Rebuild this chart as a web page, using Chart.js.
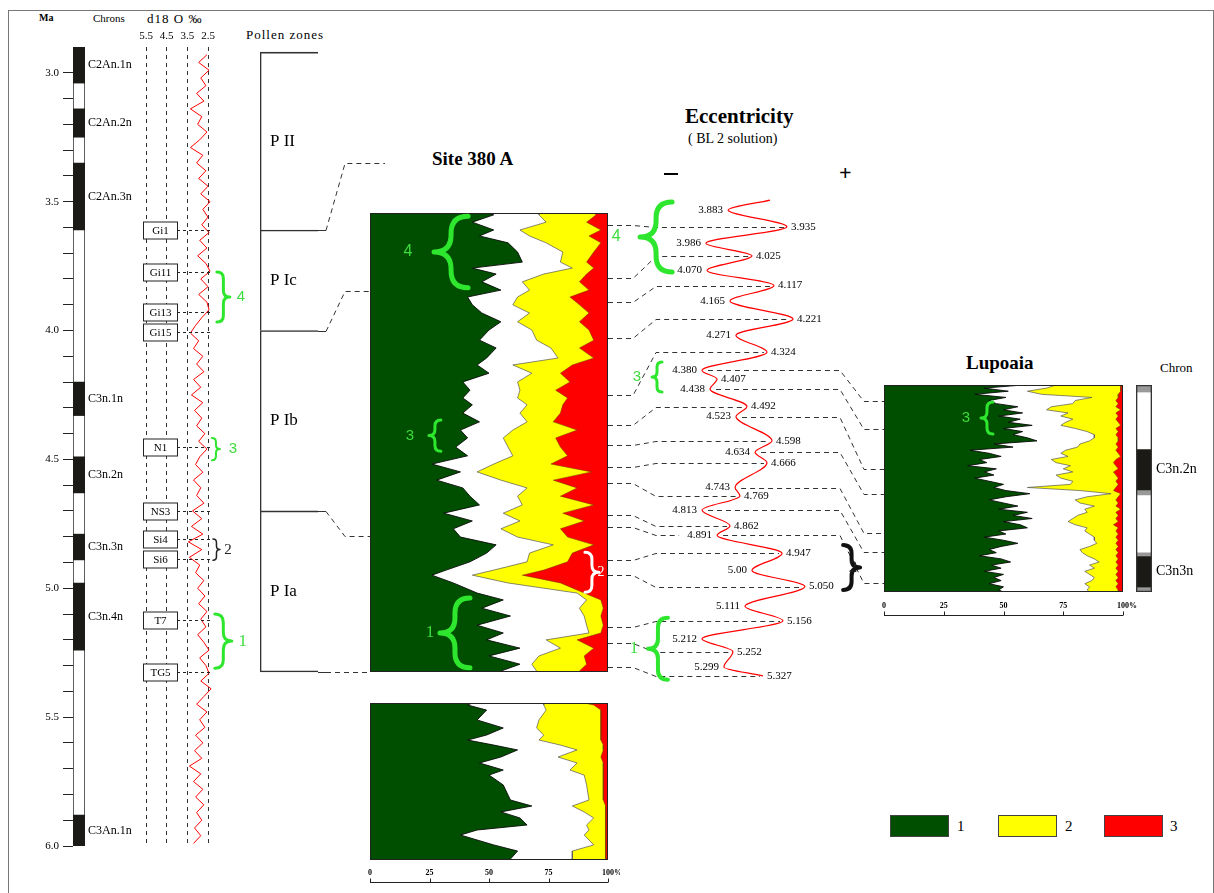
<!DOCTYPE html>
<html>
<head>
<meta charset="utf-8">
<title>Pollen record, Site 380 A and Lupoaia vs eccentricity</title>
<script src="https://cdn.jsdelivr.net/npm/chart.js@4.4.1/dist/chart.umd.min.js"></script>
<style>
  body { margin: 0; background: #fff; }
  #page { position: relative; width: 1214px; height: 893px; overflow: hidden; font-family: "Liberation Serif", serif; }
  #page canvas { position: absolute; }
  .t { position: absolute; white-space: nowrap; color: #000; line-height: 1; }
  .frame { position: absolute; left: 8px; top: 10px; width: 1204px; height: 890px; border: 1px solid #777; border-bottom: none; }
  .key { position: absolute; top: 815px; width: 59px; height: 22px; border: 1px solid #444; box-sizing: border-box; }
</style>
</head>
<body>
<div id="page">
  <div class="frame"></div>

  <div class="t" style="left:39px;top:13px;font-size:10px;font-weight:bold">Ma</div>
  <div class="t" style="left:93px;top:13px;font-size:11px">Chrons</div>
  <div class="t" style="left:147px;top:12px;font-size:13px;letter-spacing:1px">d18 O ‰</div>
  <div class="t" style="left:246px;top:28px;font-size:13px;letter-spacing:1px">Pollen zones</div>
  <div class="t" style="left:432px;top:149px;font-size:19px;font-weight:bold">Site 380 A</div>
  <div class="t" style="left:685px;top:106px;font-size:21px;font-weight:bold">Eccentricity</div>
  <div class="t" style="left:688px;top:132px;font-size:14px">( BL 2 solution)</div>
  <div style="position:absolute;left:664px;top:173px;width:14px;height:2px;background:#000"></div>
  <div class="t" style="left:839px;top:162px;font-size:22px;font-weight:bold">+</div>
  <div class="t" style="left:966px;top:353px;font-size:19px;font-weight:bold">Lupoaia</div>
  <div class="t" style="left:1160px;top:361px;font-size:13px">Chron</div>

  <div class="key" style="left:890px;background:#004f00"></div>
  <div class="t" style="left:957px;top:819px;font-size:15px">1</div>
  <div class="key" style="left:998px;background:#ffff00"></div>
  <div class="t" style="left:1065px;top:819px;font-size:15px">2</div>
  <div class="key" style="left:1104px;background:#ff0000"></div>
  <div class="t" style="left:1170px;top:819px;font-size:15px">3</div>

  <canvas id="chron" width="140" height="893" style="left:0;top:0"></canvas>
  <canvas id="d18o" width="130" height="893" style="left:120px;top:0"></canvas>
  <canvas id="pollen" width="110" height="893" style="left:250px;top:0"></canvas>
  <canvas id="site" width="260" height="480" style="left:360px;top:200px"></canvas>
  <canvas id="siteLow" width="260" height="203" style="left:360px;top:690px"></canvas>
  <canvas id="ecc" width="220" height="500" style="left:640px;top:190px"></canvas>
  <canvas id="lup" width="270" height="260" style="left:870px;top:370px"></canvas>
  <canvas id="lupChron" width="84" height="260" style="left:1130px;top:370px"></canvas>
  <canvas id="overlay" width="1214" height="893" style="left:0;top:0;z-index:5"></canvas>
</div>

<script>
// ---- age column (Ma) ----
const ageLabels = [3.0, 3.5, 4.0, 4.5, 5.0, 5.5, 6.0];
const chronNames = ['C2An.1n', 'C2An.2n', 'C2An.3n', 'C3n.1n', 'C3n.2n', 'C3n.3n', 'C3n.4n', 'C3An.1n'];
const chronTop  = [2.90, 3.14, 3.35, 4.20, 4.49, 4.79, 4.98, 5.88];
const chronBase = [3.04, 3.25, 3.61, 4.33, 4.63, 4.89, 5.24, 6.00];

// ---- d18O (per mil) ----
const d18oTicks = [5.5, 4.5, 3.5, 2.5];
const d18oAge = [2.93, 2.96, 2.99, 3.02, 3.05, 3.08, 3.11, 3.14, 3.17, 3.20,
  3.23, 3.26, 3.29, 3.32, 3.35, 3.38, 3.41, 3.44, 3.47, 3.50,
  3.53, 3.56, 3.59, 3.62, 3.65, 3.68, 3.71, 3.74, 3.77, 3.80,
  3.83, 3.86, 3.89, 3.92, 3.95, 3.98, 4.01, 4.04, 4.07, 4.10,
  4.13, 4.16, 4.19, 4.22, 4.25, 4.28, 4.31, 4.34, 4.37, 4.40,
  4.43, 4.46, 4.49, 4.52, 4.55, 4.58, 4.61, 4.64, 4.67, 4.70,
  4.73, 4.76, 4.79, 4.82, 4.85, 4.88, 4.91, 4.94, 4.97, 5.00,
  5.03, 5.06, 5.09, 5.12, 5.15, 5.18, 5.21, 5.24, 5.27, 5.30,
  5.33, 5.36, 5.39, 5.42, 5.45, 5.48, 5.51, 5.54, 5.57, 5.60,
  5.63, 5.66, 5.69, 5.72, 5.75, 5.78, 5.81, 5.84, 5.87, 5.90,
  5.93, 5.96, 5.99];
const d18oVal = [2.55, 2.95, 2.45, 2.85, 2.60, 3.05, 2.70, 3.35, 2.80, 3.00,
  2.55, 2.90, 3.35, 2.75, 3.05, 2.60, 2.95, 2.50, 2.85, 2.40,
  2.75, 2.50, 2.80, 2.45, 2.90, 2.55, 3.00, 2.60, 2.40, 2.85,
  2.50, 2.95, 2.55, 2.45, 2.80, 3.10, 3.35, 2.95, 3.20, 2.75,
  3.05, 2.70, 3.20, 2.85, 3.30, 2.75, 3.15, 2.80, 3.05, 2.65,
  2.95, 2.55, 2.90, 3.10, 2.75, 3.20, 2.85, 3.05, 2.70, 3.25,
  2.80, 3.30, 2.75, 3.45, 2.80, 3.40, 2.90, 3.10, 2.70, 3.00,
  2.65, 2.95, 2.55, 2.85, 2.60, 3.00, 2.70, 2.45, 2.90, 2.60,
  2.45, 2.85, 2.35, 2.70, 3.05, 2.55, 2.90, 2.65, 3.10, 2.75,
  3.15, 2.80, 3.40, 2.85, 3.20, 2.75, 3.10, 2.70, 3.05, 2.80,
  3.15, 2.85, 3.20];
const isoNames = ['Gi1', 'Gi11', 'Gi13', 'Gi15', 'N1', 'NS3', 'Si4', 'Si6', 'T7', 'TG5'];
const isoAges  = [3.61, 3.773, 3.928, 4.006, 4.452, 4.70, 4.809, 4.887, 5.124, 5.325];

// ---- pollen zones ----
const pollenZones = ['P II', 'P Ic', 'P Ib', 'P Ia'];
const pollenTop   = [2.92, 3.61, 4.00, 4.70];
const pollenBase  = [3.61, 4.00, 4.70, 5.325];

// ---- Site 380 A, cumulative % edges (group 1 | other | group 2 | group 3) ----
const s380Depth = [0, 0.4, 2.0, 3.7, 5.0, 6.5, 8.5, 10.7, 12.0, 13.3,
  15.0, 16.8, 18.3, 20.0, 21.8, 23.7, 25.5, 27.7, 29.4, 31.6,
  33.1, 34.9, 36.8, 38.6, 40.3, 41.8, 43.6, 45.5, 47.3, 49.0,
  51.0, 52.9, 54.7, 56.4, 58.2, 59.9, 61.7, 63.6, 65.4, 67.1,
  68.8, 70.6, 72.3, 74.1, 76.0, 77.8, 78.9, 80.6, 82.8, 84.3,
  86.1, 87.8, 89.8, 91.5, 93.0, 94.8, 96.5, 98.3, 99.8, 100];
const s380Edge1 = [49, 52, 43, 52, 46, 58, 62, 64, 43, 53,
  47, 55, 41, 43, 47, 55, 50, 46, 53, 49,
  45, 50, 39, 42, 39, 43, 39, 46, 38, 41,
  36, 41, 26, 38, 28, 39, 42, 46, 31, 43,
  35, 38, 53, 49, 42, 32, 26, 35, 45, 56,
  47, 59, 45, 56, 49, 63, 50, 63, 55, 55];
const s380EdgeOther = [71, 71, 74, 63, 67, 74, 81, 80, 85, 73,
  64, 67, 62, 60, 67, 62, 68, 70, 76, 79,
  60, 68, 62, 63, 62, 66, 63, 66, 60, 56,
  58, 60, 52, 45, 55, 66, 62, 64, 56, 63,
  55, 62, 77, 67, 66, 52, 43, 58, 87, 91,
  88, 90, 91, 92, 74, 80, 71, 68, 70, 70];
const s380Edge2 = [94, 95, 91, 97, 92, 97, 94, 91, 94, 91,
  88, 92, 84, 88, 92, 88, 92, 94, 88, 94,
  85, 80, 84, 78, 83, 81, 80, 77, 87, 78,
  80, 83, 76, 93, 77, 87, 80, 94, 81, 90,
  80, 83, 94, 85, 83, 73, 64, 80, 90, 97,
  98, 97, 98, 97, 87, 94, 90, 91, 88, 88];

// lower Site 380 A section
const lowDepth = [0, 1.3, 4.5, 10.8, 15.9, 20.4, 23.6, 26.8, 29.9, 34.4,
  38.2, 42.7, 45.9, 52.2, 61.8, 65.6, 69.4, 73.2, 77.7, 80.9,
  84.1, 90.4, 94.3, 99.4, 100];
const lowEdge1 = [43, 41, 49, 45, 56, 49, 41, 52, 62, 55,
  46, 56, 50, 56, 59, 68, 55, 63, 66, 45,
  38, 52, 62, 59, 59];
const lowEdgeOther = [73, 73, 74, 71, 70, 73, 71, 80, 87, 79,
  87, 84, 90, 91, 92, 85, 90, 94, 91, 92,
  90, 94, 85, 85, 85];
const lowEdge2 = [90, 94, 97, 97, 97, 97, 97, 98, 98, 97,
  98, 98, 98, 98, 98, 99, 99, 99, 99, 99,
  99, 99, 99, 99, 99];

// ---- Lupoaia ----
const lupDepth = [0, 1.5, 3, 4.5, 6, 7.5, 9, 10.5, 12, 13.5,
  15, 16.5, 18, 19.5, 21, 22.5, 24, 25.5, 27, 28.5,
  30, 31.5, 33, 34.5, 36, 37.5, 39, 40.5, 42, 43.5,
  45, 46.5, 48, 49.5, 51, 52.5, 54, 55.5, 57, 58.5,
  60, 61.5, 63, 64.5, 66, 67.5, 69, 70.5, 72, 73.5,
  75, 76.5, 78, 79.5, 81, 82.5, 84, 85.5, 87, 88.5,
  90, 91.5, 93, 94.5, 96, 97.5, 99, 100];
const lupEdge1 = [58, 42, 52, 38, 51, 44, 47, 56, 50, 58,
  48, 57, 52, 62, 50, 58, 54, 60, 64, 46,
  54, 36, 44, 49, 40, 43, 35, 47, 42, 46,
  38, 44, 50, 46, 51, 61, 51, 44, 50, 56,
  48, 60, 54, 62, 50, 57, 60, 48, 51, 42,
  50, 56, 49, 44, 47, 40, 49, 53, 45, 49,
  42, 50, 46, 49, 44, 50, 48, 50];
const lupEdgeOther = [72, 68, 60, 66, 87, 80, 79, 70, 68, 77,
  74, 79, 76, 74, 80, 85, 88, 88, 86, 82,
  81, 76, 74, 77, 70, 72, 78, 75, 79, 72,
  74, 79, 78, 60, 82, 95, 85, 80, 82, 88,
  84, 85, 81, 79, 77, 80, 85, 84, 86, 88,
  88, 89, 86, 82, 83, 85, 88, 90, 86, 88,
  84, 86, 88, 87, 84, 86, 85, 86];
const lupEdge2 = [99, 99, 99, 98, 98, 97, 98, 97, 99, 97,
  98, 97, 98, 99, 97, 98, 97, 98, 98, 97,
  98, 97, 98, 99, 97, 96, 97, 98, 96, 97,
  98, 97, 98, 97, 96, 99, 98, 97, 98, 97,
  99, 97, 98, 97, 98, 96, 98, 97, 98, 97,
  98, 97, 98, 97, 98, 97, 98, 97, 98, 97,
  98, 97, 98, 97, 98, 97, 98, 98];
const lupChronTop   = [0, 3.4, 30.9, 50.7, 53.1, 80.7, 82.6, 97.6];
const lupChronBase  = [3.4, 30.9, 50.7, 53.1, 80.7, 82.6, 97.6, 100];
const lupChronColor = ['#999', '#fff', '#1c1a17', '#999', '#fff', '#999', '#1c1a17', '#999'];
const lupChronNames = ['', '', 'C3n.2n', '', '', '', 'C3n3n', ''];

// ---- eccentricity (relative, BL2) ----
const eccAge = [3.852, 3.883, 3.935, 3.986, 4.025, 4.070, 4.117, 4.165, 4.221, 4.271,
  4.324, 4.380, 4.407, 4.438, 4.492, 4.523, 4.598, 4.634, 4.666, 4.743,
  4.769, 4.813, 4.862, 4.891, 4.947, 5.00, 5.050, 5.111, 5.156, 5.212,
  5.252, 5.299, 5.327];
const eccVal = [50.0, 26.7, 59.4, 14.4, 40.0, 15.0, 52.2, 27.8, 62.8, 31.1,
  48.3, 12.2, 20.6, 16.7, 37.2, 31.1, 51.1, 41.7, 48.3, 30.6,
  33.3, 12.2, 27.8, 20.6, 56.7, 40.0, 69.4, 36.1, 57.2, 12.2,
  29.4, 24.4, 46.1];

// ---- correlation ties ----
const pollenTieAge   = [3.61, 4.00, 4.70, 5.325];
const pollenTieDepth = [-10.9, 17.0, 70.4, 100];
const siteTieDepth = [2.6, 14.2, 19.4, 27.2, 39.7, 46.2, 50.5, 55.3, 58.8, 65.8, 68.4, 75.6, 78.9, 90.2, 93.7, 98.9];
const siteTieAge   = [3.935, 4.025, 4.117, 4.221, 4.324, 4.492, 4.598, 4.666, 4.769, 4.862, 4.891, 4.947, 5.050, 5.156, 5.252, 5.327];
const lupTieAge   = [4.380, 4.438, 4.523, 4.634, 4.743, 4.813, 4.891];
const lupTieDepth = [7.7, 21.3, 40.6, 52.7, 71.5, 80.7, 95.7];
const pctTicks = [0, 25, 50, 75, 100];

const GREEN = '#004f00', YELLOW = '#ffff00', RED = '#ff0000', BRIGHT = '#2ee62e';
const SERIF = '"Liberation Serif", serif', SANS = '"Liberation Sans", sans-serif';
const POS = { chron: [0, 0], d18o: [120, 0], pollen: [250, 0], site: [360, 200], siteLow: [360, 690],
  ecc: [640, 190], lup: [870, 370], lupChron: [1130, 370] };

Chart.defaults.font.family = SERIF;
Chart.defaults.color = '#000';
Chart.defaults.animation = false;
Chart.defaults.responsive = false;
Chart.defaults.events = [];
Chart.defaults.plugins.legend.display = false;
Chart.defaults.plugins.tooltip.enabled = false;

// chron names next to the polarity column
const chronLabels = {
  id: 'chronLabels',
  afterDraw(c, args, opts) {
    const { ctx, chartArea, scales } = c;
    ctx.save();
    ctx.font = opts.font;
    ctx.textBaseline = 'middle';
    ctx.fillStyle = '#000';
    opts.names.forEach((n, i) => {
      if (n) ctx.fillText(n, chartArea.right + opts.dx, scales.y.getPixelForValue((opts.top[i] + opts.base[i]) / 2));
    });
    ctx.restore();
  }
};

const chronChart = new Chart('chron', {
  type: 'bar',
  data: {
    labels: [''],
    datasets: [
      ...chronNames.map((n, i) => ({ label: n, data: [[chronTop[i], chronBase[i]]], backgroundColor: '#1c1a17',
        borderWidth: 0, grouped: false, barPercentage: 1, categoryPercentage: 1 })),
      { label: 'column', data: [[2.9, 6.0]], backgroundColor: '#fff', borderColor: '#111', borderWidth: 1,
        borderSkipped: false, grouped: false, barPercentage: 1, categoryPercentage: 1 }
    ]
  },
  options: {
    layout: { padding: { top: 47, bottom: 47, right: 55, left: 0 } },
    plugins: { chronLabels: { names: chronNames, top: chronTop, base: chronBase, dx: 3, font: '12px ' + SERIF } },
    scales: {
      x: { display: false },
      y: {
        min: 2.9, max: 6.0, reverse: true,
        afterFit(s) { s.width = 73; },
        afterBuildTicks(s) { s.ticks = s.ticks.filter(t => t.value > 2.95); },
        ticks: { stepSize: 0.1, autoSkip: false, padding: 4, font: { size: 11 },
          callback: v => ageLabels.some(a => Math.abs(a - v) < 1e-6) ? v.toFixed(1) : '' },
        grid: { drawOnChartArea: false, tickLength: 10, color: '#222' },
        border: { display: false }
      }
    }
  },
  plugins: [chronLabels]
});

// d18O column: tick labels, isotope stage boxes
const isoPlugin = {
  id: 'iso',
  afterDraw(c) {
    const { ctx, scales: { x, y } } = c;
    ctx.save();
    ctx.font = '11px ' + SERIF;
    ctx.textAlign = 'center';
    ctx.textBaseline = 'middle';
    ctx.fillStyle = '#000';
    d18oTicks.forEach(v => ctx.fillText(v.toFixed(1), x.getPixelForValue(v), 36));
    const bx = Math.round(x.getPixelForValue(5.5)) - 3, bw = 34, bh = 17;
    isoNames.forEach((n, i) => {
      const py = Math.round(y.getPixelForValue(isoAges[i])) + 0.5;
      ctx.setLineDash([3, 3]);
      ctx.strokeStyle = '#222';
      ctx.lineWidth = 1;
      ctx.beginPath();
      ctx.moveTo(bx + bw, py);
      ctx.lineTo(x.getPixelForValue(2.5) + 5, py);
      ctx.stroke();
      ctx.setLineDash([]);
      ctx.fillStyle = '#fff';
      ctx.fillRect(bx, py - bh / 2, bw, bh);
      ctx.strokeRect(bx + 0.5, py - bh / 2, bw, bh);
      ctx.fillStyle = '#000';
      ctx.fillText(n, bx + bw / 2 + 0.5, py + 0.5);
    });
    ctx.restore();
  }
};

const d18oChart = new Chart('d18o', {
  type: 'line',
  data: { datasets: [{ label: 'd18O', data: d18oAge.map((a, i) => ({ x: d18oVal[i], y: a })),
    borderColor: '#f00', borderWidth: 1, pointRadius: 0, tension: 0, clip: false }] },
  options: {
    indexAxis: 'y',
    layout: { padding: { left: 26, right: 42, top: 0, bottom: 47 } },
    scales: {
      x: { type: 'linear', position: 'top', min: 2.5, max: 5.5, reverse: true,
        afterFit(s) { s.height = 47; },
        ticks: { display: false, stepSize: 1 },
        grid: { color: '#333', drawTicks: false },
        border: { display: false, dash: [4, 4] } },
      y: { type: 'linear', min: 2.9, max: 6.0, reverse: true, display: false }
    }
  },
  plugins: [isoPlugin]
});

// pollen zones
const zoneLabels = {
  id: 'zoneLabels',
  afterDraw(c) {
    const { ctx, chartArea, scales } = c;
    ctx.save();
    ctx.font = '17px ' + SERIF;
    ctx.textBaseline = 'middle';
    ctx.fillStyle = '#000';
    pollenZones.forEach((z, i) => ctx.fillText(z, chartArea.left + 10, scales.y.getPixelForValue((pollenTop[i] + pollenBase[i]) / 2)));
    ctx.restore();
  }
};

const pollenChart = new Chart('pollen', {
  type: 'bar',
  data: {
    labels: [''],
    datasets: pollenZones.map((z, i) => ({ label: z, data: [[pollenTop[i], pollenBase[i]]],
      backgroundColor: 'rgba(0,0,0,0)', borderColor: '#333',
      borderWidth: { left: 1, top: 1, bottom: i === pollenZones.length - 1 ? 1 : 0, right: 0 },
      borderSkipped: false, grouped: false, barPercentage: 1, categoryPercentage: 1 }))
  },
  options: {
    layout: { padding: { left: 10, right: 42, top: 47, bottom: 47 } },
    scales: { x: { display: false }, y: { min: 2.9, max: 6.0, reverse: true, display: false } }
  },
  plugins: [zoneLabels]
});

// red background = group 3, frame around the diagram
const frame = {
  id: 'frame',
  beforeDatasetsDraw(c) {
    const a = c.chartArea;
    c.ctx.save();
    c.ctx.fillStyle = RED;
    c.ctx.fillRect(a.left, a.top, a.width, a.height);
    c.ctx.restore();
  },
  afterDatasetsDraw(c) {
    const a = c.chartArea, ctx = c.ctx;
    ctx.save();
    ctx.strokeStyle = '#222';
    ctx.lineWidth = 1;
    ctx.strokeRect(Math.round(a.left) + 0.5, Math.round(a.top) + 0.5, Math.round(a.width) - 1, Math.round(a.height) - 1);
    ctx.restore();
  }
};

// 0-100 % scale bar under a diagram
const pctAxis = {
  id: 'pctAxis',
  afterDraw(c, args, opts) {
    if (!opts.gap) return;
    const { ctx, chartArea, scales: { x } } = c;
    const yl = Math.round(chartArea.bottom + opts.gap) + 0.5;
    ctx.save();
    ctx.strokeStyle = '#222';
    ctx.lineWidth = 1;
    ctx.beginPath();
    ctx.moveTo(x.getPixelForValue(0), yl);
    ctx.lineTo(x.getPixelForValue(100), yl);
    pctTicks.forEach(v => { const px = Math.round(x.getPixelForValue(v)) + 0.5; ctx.moveTo(px, yl); ctx.lineTo(px, yl - 4); });
    ctx.stroke();
    ctx.font = 'bold 8px ' + SERIF;
    ctx.textAlign = 'center';
    ctx.textBaseline = 'bottom';
    ctx.fillStyle = '#000';
    pctTicks.forEach(v => ctx.fillText(v === 100 ? '100%' : String(v), x.getPixelForValue(v) + (v === 100 ? 4 : 0), yl - 6));
    ctx.restore();
  }
};

function stackChart(id, depth, edge1, edgeOther, edge2, pad, gap) {
  const pts = arr => depth.map((d, i) => ({ x: arr[i], y: d }));
  return new Chart(id, {
    type: 'line',
    data: {
      datasets: [
        { label: '1', data: pts(edge1), fill: { value: 0 }, backgroundColor: GREEN, borderColor: '#0a0a0a', borderWidth: 0.9 },
        { label: 'other', data: pts(edgeOther), fill: { value: 0 }, backgroundColor: '#fff', borderColor: '#555', borderWidth: 0.7 },
        { label: '2', data: pts(edge2), fill: { value: 0 }, backgroundColor: YELLOW, borderColor: '#6b3a00', borderWidth: 0.5 }
      ]
    },
    options: {
      indexAxis: 'y',
      layout: { padding: pad },
      elements: { point: { radius: 0 }, line: { tension: 0 } },
      plugins: { pctAxis: { gap } },
      scales: {
        x: { type: 'linear', min: 0, max: 100, display: false },
        y: { type: 'linear', min: 0, max: 100, reverse: true, display: false }
      }
    },
    plugins: [frame, pctAxis]
  });
}

const siteChart = stackChart('site', s380Depth, s380Edge1, s380EdgeOther, s380Edge2, { left: 10, right: 12, top: 13, bottom: 8 }, 0);
const siteLowChart = stackChart('siteLow', lowDepth, lowEdge1, lowEdgeOther, lowEdge2, { left: 10, right: 12, top: 13, bottom: 33 }, 22);
const lupChart = stackChart('lup', lupDepth, lupEdge1, lupEdgeOther, lupEdge2, { left: 14, right: 17, top: 15, bottom: 38 }, 23);

const lupChronChart = new Chart('lupChron', {
  type: 'bar',
  data: {
    labels: [''],
    datasets: [
      { label: 'column', data: [[0, 100]], backgroundColor: 'rgba(0,0,0,0)', borderColor: '#333', borderWidth: 1,
        borderSkipped: false, grouped: false, barPercentage: 1, categoryPercentage: 1 },
      ...lupChronTop.map((t, i) => ({ label: 'c' + i, data: [[t, lupChronBase[i]]], backgroundColor: lupChronColor[i],
        borderWidth: 0, grouped: false, barPercentage: 1, categoryPercentage: 1 }))
    ]
  },
  options: {
    layout: { padding: { left: 6, right: 62, top: 15, bottom: 38 } },
    plugins: { chronLabels: { names: lupChronNames, top: lupChronTop, base: lupChronBase, dx: 4, font: '14px ' + SERIF } },
    scales: { x: { display: false }, y: { min: 0, max: 100, reverse: true, display: false } }
  },
  plugins: [chronLabels]
});

// eccentricity curve with ages of the extremes
const isEccMin = i => i > 0 && i < eccVal.length - 1 && eccVal[i] < eccVal[i - 1] && eccVal[i] < eccVal[i + 1];
const eccLabels = {
  id: 'eccLabels',
  afterDraw(c) {
    const { ctx, scales: { x, y } } = c;
    ctx.save();
    ctx.font = '11px ' + SERIF;
    ctx.textBaseline = 'middle';
    ctx.fillStyle = '#000';
    for (let i = 1; i < eccAge.length; i++) {
      const txt = eccAge[i] === 5 ? '5.00' : eccAge[i].toFixed(3);
      const px = x.getPixelForValue(eccVal[i]), py = y.getPixelForValue(eccAge[i]);
      ctx.textAlign = isEccMin(i) ? 'right' : 'left';
      ctx.fillText(txt, isEccMin(i) ? px - 5 : px + 4, py);
    }
    ctx.restore();
  }
};

const eccChart = new Chart('ecc', {
  type: 'line',
  data: { datasets: [{ label: 'eccentricity', data: eccAge.map((a, i) => ({ x: eccVal[i], y: a })),
    borderColor: '#f00', borderWidth: 1.2, pointRadius: 0, cubicInterpolationMode: 'monotone', fill: false, clip: false }] },
  options: {
    indexAxis: 'y',
    layout: { padding: { left: 40, right: 0, top: 9.4, bottom: 13.1 } },
    scales: {
      x: { type: 'linear', min: 0, max: 100, display: false },
      y: { type: 'linear', min: 3.85, max: 5.33, reverse: true, display: false }
    }
  },
  plugins: [eccLabels]
});

// ---- overlay: correlation lines and braces ----
const octx = document.getElementById('overlay').getContext('2d');
const pageX = (chart, pos, v) => pos[0] + chart.scales.x.getPixelForValue(v);
const pageY = (chart, pos, v) => pos[1] + chart.scales.y.getPixelForValue(v);

function dashed(points) {
  octx.save();
  octx.setLineDash([5, 4]);
  octx.strokeStyle = '#333';
  octx.lineWidth = 1;
  octx.beginPath();
  points.forEach(([x, y], i) => i ? octx.lineTo(x, Math.round(y) + 0.5) : octx.moveTo(x, Math.round(y) + 0.5));
  octx.stroke();
  octx.restore();
}

// pollen zone boundaries -> Site 380 A
pollenTieAge.forEach((a, i) => {
  const x0 = POS.pollen[0] + pollenChart.chartArea.right;
  const y0 = pageY(pollenChart, POS.pollen, a);
  const y1 = pageY(siteChart, POS.site, pollenTieDepth[i]);
  const xe = POS.site[0] + siteChart.chartArea.left + (pollenTieDepth[i] < 0 ? 15 : 0);
  octx.save();
  octx.strokeStyle = '#333';
  octx.beginPath();
  octx.moveTo(x0, Math.round(y0) + 0.5);
  octx.lineTo(x0 + 8, Math.round(y0) + 0.5);
  octx.stroke();
  octx.restore();
  dashed([[x0 + 8, y0], [x0 + 27, y1], [xe, y1]]);
});

// Site 380 A -> eccentricity extremes (stop short of the age label at minima)
siteTieDepth.forEach((d, i) => {
  const xs = POS.site[0] + siteChart.chartArea.right;
  const ys = pageY(siteChart, POS.site, d);
  const k = eccAge.indexOf(siteTieAge[i]);
  const xe = pageX(eccChart, POS.ecc, eccVal[k]) - (isEccMin(k) ? 38 : 3);
  const ye = pageY(eccChart, POS.ecc, eccAge[k]);
  dashed([[xs, ys], [xs + 25, ys], [xs + 48, ye], [xe, ye]]);
});

// eccentricity -> Lupoaia
lupTieAge.forEach((a, i) => {
  const k = eccAge.indexOf(a);
  const xe = pageX(eccChart, POS.ecc, eccVal[k]) + 6;
  const ye = pageY(eccChart, POS.ecc, a);
  const xr = POS.ecc[0] + eccChart.chartArea.right - 20;
  const yl = pageY(lupChart, POS.lup, lupTieDepth[i]);
  const xl = POS.lup[0] + lupChart.chartArea.left;
  dashed([[xe, ye], [xr, ye], [xr + 24, yl], [xl, yl]]);
});

function brace(x, y1, y2, w, dir, color, lw) {
  const ym = (y1 + y2) / 2, h = w / 2, r = Math.min(w / 2, (y2 - y1) / 4);
  octx.save();
  octx.beginPath();
  octx.moveTo(x, y1);
  octx.quadraticCurveTo(x + dir * h, y1, x + dir * h, y1 + r);
  octx.lineTo(x + dir * h, ym - r);
  octx.quadraticCurveTo(x + dir * h, ym, x + dir * w, ym);
  octx.quadraticCurveTo(x + dir * h, ym, x + dir * h, ym + r);
  octx.lineTo(x + dir * h, y2 - r);
  octx.quadraticCurveTo(x + dir * h, y2, x, y2);
  octx.strokeStyle = color;
  octx.lineWidth = lw;
  octx.lineCap = 'round';
  octx.lineJoin = 'round';
  octx.stroke();
  octx.restore();
}

// [chart, pos, x value, from, to, width, direction, colour, line width, label, label dx, font]
const braces = [
  [siteChart, POS.site, 41.2, 0.7, 16.3, 34, -1, BRIGHT, 5, '4', -60, '16px ' + SANS],
  [siteChart, POS.site, 29.8, 45.1, 51.9, 12, -1, BRIGHT, 3, '3', -31, '15px ' + SANS],
  [siteChart, POS.site, 42.0, 83.9, 99.1, 30, -1, BRIGHT, 5, '1', -40, '17px ' + SERIF],
  [siteChart, POS.site, 90.3, 73.9, 82.6, 14, 1, '#fff', 3, '2', 16, '14px ' + SERIF],
  [eccChart, POS.ecc, -4.4, 3.858, 4.075, 32, -1, BRIGHT, 5, '4', -56, '16px ' + SANS],
  [eccChart, POS.ecc, -10.0, 4.354, 4.447, 10, -1, BRIGHT, 3, '3', -25, '15px ' + SANS],
  [eccChart, POS.ecc, -6.7, 5.147, 5.339, 20, -1, BRIGHT, 4, '1', -34, '17px ' + SERIF],
  [eccChart, POS.ecc, 90.6, 4.921, 5.061, 17, 1, '#111', 4, '2', 10, '17px ' + SERIF],
  [d18oChart, POS.d18o, 2.07, 3.773, 3.967, 13, 1, BRIGHT, 3, '4', 24, '15px ' + SANS],
  [d18oChart, POS.d18o, 2.31, 4.417, 4.503, 8, 1, BRIGHT, 2, '3', 21, '15px ' + SANS],
  [d18oChart, POS.d18o, 2.26, 4.809, 4.891, 7, 1, '#222', 1.5, '2', 15, '15px ' + SERIF],
  [d18oChart, POS.d18o, 2.17, 5.100, 5.310, 17, 1, BRIGHT, 3, '1', 28, '17px ' + SERIF],
  [lupChart, POS.lup, 45.6, 8.2, 23.7, 12, -1, BRIGHT, 3, '3', -27, '15px ' + SANS]
];

braces.forEach(([chart, pos, xv, a, b, w, dir, color, lw, label, dx, font]) => {
  const x = pageX(chart, pos, xv), y1 = pageY(chart, pos, a), y2 = pageY(chart, pos, b);
  brace(x, y1, y2, w, dir, color, lw);
  octx.save();
  octx.font = font;
  octx.fillStyle = color === '#111' || color === '#222' ? '#222' : (color === '#fff' ? '#fff' : '#3ddc3d');
  octx.textAlign = 'center';
  octx.textBaseline = 'middle';
  octx.fillText(label, x + dx, (y1 + y2) / 2);
  octx.restore();
});
</script>
</body>
</html>
